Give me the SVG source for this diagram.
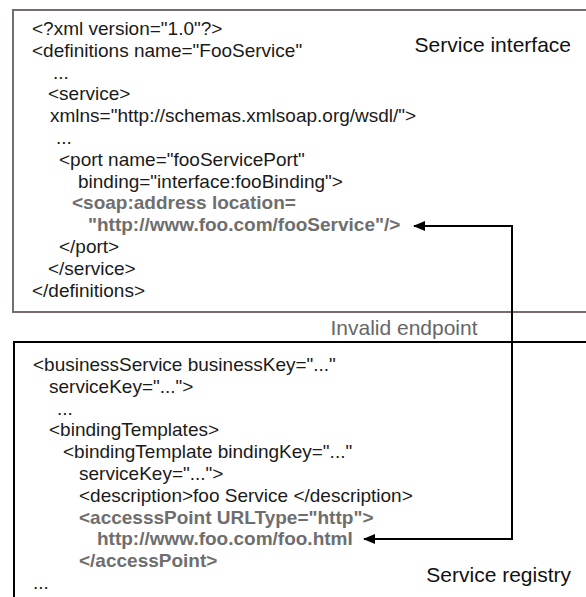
<svg xmlns="http://www.w3.org/2000/svg" width="586" height="597" viewBox="0 0 586 597">
<style>
  text { font-family: "Liberation Sans", Arial, sans-serif; font-size: 19px; fill: #1a1a1a; }
  .b { font-weight: bold; fill: #6e6e6e; }
  .lbl { font-size: 21px; fill: #111; }
  .gray { fill: #666; }
  .conn { fill: none; stroke: #000; stroke-width: 2; }
</style>
<defs>
  <marker id="ah" viewBox="0 0 12 10" refX="11" refY="5" markerWidth="12" markerHeight="10" markerUnits="userSpaceOnUse" orient="auto-start-reverse">
    <path d="M0,0 L12,5 L0,10 Z" fill="#000"/>
  </marker>
</defs>
<rect width="586" height="597" fill="#fff"/>

<g id="service-interface">
  <rect x="13" y="10" width="600" height="302" fill="none" stroke="#766c6f" stroke-width="2"/>
  <text x="32" y="35">&lt;?xml version="1.0"?&gt;</text>
  <text x="32" y="56.8">&lt;definitions name="FooService"</text>
  <text x="53" y="78.6">...</text>
  <text x="48" y="100.4">&lt;service&gt;</text>
  <text x="50" y="122.2">xmlns="http://schemas.xmlsoap.org/wsdl/"&gt;</text>
  <text x="56" y="144">...</text>
  <text x="59" y="165.8">&lt;port name="fooServicePort"</text>
  <text x="78" y="187.6">binding="interface:fooBinding"&gt;</text>
  <text class="b" x="72" y="209.4">&lt;soap:address location=</text>
  <text class="b" x="88" y="231.2">"http://www.foo.com/fooService"/&gt;</text>
  <text x="59" y="253">&lt;/port&gt;</text>
  <text x="48" y="274.8">&lt;/service&gt;</text>
  <text x="32" y="296.6">&lt;/definitions&gt;</text>
  <text class="lbl" x="571" y="52" text-anchor="end">Service interface</text>
</g>

<g id="service-registry">
  <rect x="14" y="342" width="600" height="300" fill="none" stroke="#000" stroke-width="2"/>
  <text x="33" y="371">&lt;businessService businessKey="..."</text>
  <text x="49" y="392.8">serviceKey="..."&gt;</text>
  <text x="57" y="414.6">...</text>
  <text x="49" y="436.4">&lt;bindingTemplates&gt;</text>
  <text x="63" y="458.2">&lt;bindingTemplate bindingKey="..."</text>
  <text x="79" y="480">serviceKey="..."&gt;</text>
  <text x="79" y="501.8">&lt;description&gt;foo Service &lt;/description&gt;</text>
  <text class="b" x="79" y="523.6">&lt;accesssPoint URLType="http"&gt;</text>
  <text class="b" x="97" y="545.4">http://www.foo.com/foo.html</text>
  <text class="b" x="79" y="567.2">&lt;/accessPoint&gt;</text>
  <text x="33" y="589">...</text>
  <text class="lbl" x="571" y="582" text-anchor="end">Service registry</text>
</g>

<g id="connectors">
  <path class="conn" d="M414,226 H512 V539 H364" marker-start="url(#ah)" marker-end="url(#ah)"/>
  <text class="lbl gray" x="404" y="335" text-anchor="middle">Invalid endpoint</text>
</g>
</svg>
